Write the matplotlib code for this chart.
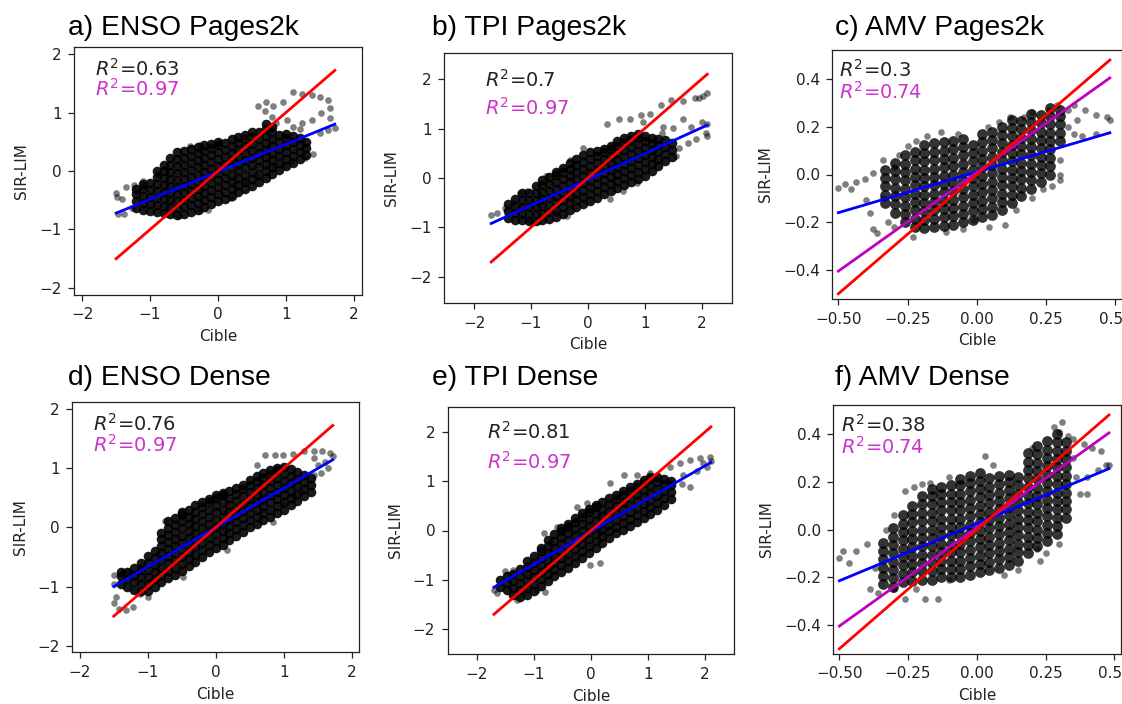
import matplotlib
matplotlib.use("Agg")
import matplotlib.pyplot as plt
from matplotlib.ticker import MultipleLocator

# ---------------- data ----------------
titles = ["a) ENSO Pages2k", "b) TPI Pages2k", "c) AMV Pages2k",
          "d) ENSO Dense", "e) TPI Dense", "f) AMV Dense"]
r2_black = ["0.63", "0.7", "0.3", "0.76", "0.81", "0.38"]
r2_magenta = ["0.97", "0.97", "0.74", "0.97", "0.97", "0.74"]
x_label = "Cible"
y_label = "SIR-LIM"

# dense cores (x column, list of y values)
a_core = [(-1.2, [-0.64, -0.52, -0.40, -0.30]),
          (-1.1, [-0.66, -0.54, -0.42, -0.30, -0.22]),
          (-1.0, [-0.68, -0.56, -0.44, -0.32, -0.20]),
          (-0.9, [-0.70, -0.58, -0.46, -0.34, -0.22, -0.10, 0.0]),
          (-0.8, [-0.72, -0.60, -0.48, -0.36, -0.24, -0.12, 0.0, 0.10]),
          (-0.7, [-0.74, -0.62, -0.50, -0.38, -0.26, -0.14, -0.02, 0.10, 0.22]),
          (-0.6, [-0.75, -0.63, -0.51, -0.39, -0.27, -0.15, -0.03, 0.09, 0.21, 0.32]),
          (-0.5, [-0.74, -0.62, -0.50, -0.38, -0.26, -0.14, -0.02, 0.10, 0.22, 0.34]),
          (-0.4, [-0.70, -0.58, -0.46, -0.34, -0.22, -0.10, 0.02, 0.14, 0.26, 0.38]),
          (-0.3, [-0.66, -0.54, -0.42, -0.30, -0.18, -0.06, 0.06, 0.18, 0.30, 0.41]),
          (-0.2, [-0.62, -0.50, -0.38, -0.26, -0.14, -0.02, 0.10, 0.22, 0.34, 0.44]),
          (-0.1, [-0.56, -0.44, -0.32, -0.20, -0.08, 0.04, 0.16, 0.28, 0.40, 0.47]),
          (0.0, [-0.52, -0.40, -0.28, -0.16, -0.04, 0.08, 0.20, 0.32, 0.44, 0.50]),
          (0.1, [-0.48, -0.36, -0.24, -0.12, 0.0, 0.12, 0.24, 0.36, 0.48]),
          (0.2, [-0.42, -0.30, -0.18, -0.06, 0.06, 0.18, 0.30, 0.42, 0.54]),
          (0.3, [-0.36, -0.24, -0.12, 0.0, 0.12, 0.24, 0.36, 0.48, 0.58]),
          (0.4, [-0.30, -0.18, -0.06, 0.06, 0.18, 0.30, 0.42, 0.54, 0.62]),
          (0.5, [-0.25, -0.13, -0.01, 0.11, 0.23, 0.35, 0.47, 0.58, 0.66]),
          (0.6, [-0.18, -0.06, 0.06, 0.18, 0.30, 0.42, 0.54, 0.66]),
          (0.7, [-0.12, 0.0, 0.12, 0.24, 0.36, 0.48, 0.60, 0.72, 0.80]),
          (0.8, [-0.05, 0.07, 0.19, 0.31, 0.43, 0.55, 0.67, 0.76]),
          (0.9, [0.02, 0.14, 0.26, 0.38, 0.50, 0.62]),
          (1.0, [0.08, 0.20, 0.32, 0.44, 0.56, 0.64]),
          (1.1, [0.14, 0.26, 0.38, 0.50, 0.60]),
          (1.2, [0.20, 0.32, 0.44, 0.56]),
          (1.3, [0.28, 0.40, 0.50])]
a_out_x = [-1.5, -1.48, -1.47, -1.38, -1.42, -1.35, -1.27, -1.23, -1.11, -0.88, -0.57, -0.26,
           -0.14, 0.19, 0.4, 0.57, 0.84, 0.96, 1.08, 1.28, 1.40, -0.26, -0.41, 0.02, 0.59,
           0.71, 0.81, 0.96, 1.11, 1.23, 1.38, 1.5, 1.62, 1.65, 1.23, 1.38, 1.52, 1.65, 1.72,
           1.62, 1.5, 0.76, 0.86, 0.79, 0.69, 1.01, 1.11, 1.21]
a_out_y = [-0.38, -0.45, -0.74, -0.74, -0.48, -0.27, -0.63, -0.24, -0.17, -0.05, -0.77, -0.68,
           -0.67, -0.47, -0.2, -0.11, 0.08, 0.09, 0.17, 0.23, 0.29, 0.44, 0.43, 0.48, 1.11,
           1.18, 1.11, 1.18, 1.35, 1.32, 1.30, 1.27, 1.21, 1.07, 0.82, 0.875, 1.0, 0.9, 0.74,
           0.7, 0.65, 0.71, 0.82, 0.93, 1.02, 0.875, 0.76, 0.71]

b_core = [(-1.4, [-0.80, -0.66, -0.52]),
          (-1.28, [-0.84, -0.70, -0.56, -0.42]),
          (-1.16, [-0.86, -0.72, -0.58, -0.44, -0.30]),
          (-1.04, [-0.87, -0.73, -0.59, -0.45, -0.31]),
          (-0.92, [-0.87, -0.73, -0.59, -0.45, -0.31, -0.17]),
          (-0.8, [-0.85, -0.71, -0.57, -0.43, -0.29, -0.15, -0.05]),
          (-0.68, [-0.82, -0.68, -0.54, -0.40, -0.26, -0.12, 0.02]),
          (-0.56, [-0.78, -0.64, -0.50, -0.36, -0.22, -0.08, 0.06, 0.12]),
          (-0.44, [-0.72, -0.58, -0.44, -0.30, -0.16, -0.02, 0.12, 0.20]),
          (-0.32, [-0.65, -0.51, -0.37, -0.23, -0.09, 0.05, 0.19, 0.30]),
          (-0.2, [-0.58, -0.44, -0.30, -0.16, -0.02, 0.12, 0.26, 0.38]),
          (-0.08, [-0.52, -0.38, -0.24, -0.10, 0.04, 0.18, 0.32, 0.46]),
          (0.04, [-0.46, -0.32, -0.18, -0.04, 0.10, 0.24, 0.38, 0.52]),
          (0.16, [-0.40, -0.26, -0.12, 0.02, 0.16, 0.30, 0.44, 0.55]),
          (0.28, [-0.32, -0.18, -0.04, 0.10, 0.24, 0.38, 0.52, 0.58]),
          (0.4, [-0.26, -0.12, 0.02, 0.16, 0.30, 0.44, 0.58, 0.65]),
          (0.52, [-0.20, -0.06, 0.08, 0.22, 0.36, 0.50, 0.64, 0.74]),
          (0.64, [-0.14, 0.0, 0.14, 0.28, 0.42, 0.56, 0.70, 0.80]),
          (0.76, [-0.08, 0.06, 0.20, 0.34, 0.48, 0.62, 0.76, 0.86]),
          (0.88, [-0.02, 0.12, 0.26, 0.40, 0.54, 0.68, 0.82, 0.90]),
          (1.0, [0.05, 0.19, 0.33, 0.47, 0.61, 0.75, 0.85]),
          (1.12, [0.15, 0.29, 0.43, 0.57, 0.71, 0.80]),
          (1.24, [0.25, 0.39, 0.53, 0.67, 0.78]),
          (1.36, [0.35, 0.49, 0.63, 0.76]),
          (1.48, [0.42, 0.56, 0.70])]
b_out_x = [0.33, 0.54, 0.74, 0.93, 1.09, 1.29, 1.46, 1.68, 1.88, 1.95, 2.03, 2.1, 1.3, 1.5,
           1.68, 1.82, 2.0, 2.1, 1.77, 1.91, 2.08, 2.1, 0.97, 1.33, -1.7, -1.6, -1.46, -1.31,
           -1.19, -1.07, -1.02, -0.37, -0.55, 0.39, 0.62, 0.86, -0.08, -0.31, -0.73, 1.6, 1.55]
b_out_y = [1.1, 1.2, 1.2, 1.27, 1.3, 1.47, 1.58, 1.55, 1.62, 1.62, 1.65, 1.72, 0.91, 1.01,
           1.2, 1.04, 1.14, 1.1, 0.71, 0.78, 0.91, 0.84, 1.14, 1.04, -0.74, -0.71, -0.61, -0.51,
           -0.3, -0.27, -0.87, -0.77, -0.7, -0.43, -0.26, -0.1, 0.6, 0.37, 0.04, 0.6, 0.45]

c_core = [(-0.33, [-0.12, -0.085, -0.05, -0.015, 0.02]),
          (-0.295, [-0.16, -0.125, -0.09, -0.055, -0.02, 0.015, 0.05]),
          (-0.26, [-0.2, -0.165, -0.13, -0.095, -0.06, -0.025, 0.01, 0.045, 0.08]),
          (-0.225, [-0.22, -0.185, -0.15, -0.115, -0.08, -0.045, -0.01, 0.025, 0.06, 0.095]),
          (-0.19, [-0.225, -0.19, -0.155, -0.12, -0.085, -0.05, -0.015, 0.02, 0.055, 0.09, 0.125]),
          (-0.155, [-0.22, -0.185, -0.15, -0.115, -0.08, -0.045, -0.01, 0.025, 0.06, 0.095, 0.13]),
          (-0.12, [-0.215, -0.18, -0.145, -0.11, -0.075, -0.04, -0.005, 0.03, 0.065, 0.1, 0.135]),
          (-0.085, [-0.21, -0.175, -0.14, -0.105, -0.07, -0.035, 0.0, 0.035, 0.07, 0.105, 0.14]),
          (-0.05, [-0.2, -0.165, -0.13, -0.095, -0.06, -0.025, 0.01, 0.045, 0.08, 0.115, 0.15]),
          (-0.015, [-0.19, -0.155, -0.12, -0.085, -0.05, -0.015, 0.02, 0.055, 0.09, 0.125]),
          (0.02, [-0.18, -0.145, -0.11, -0.075, -0.04, -0.005, 0.03, 0.065, 0.1, 0.135, 0.17]),
          (0.055, [-0.17, -0.135, -0.1, -0.065, -0.03, 0.005, 0.04, 0.075, 0.11, 0.145, 0.18]),
          (0.09, [-0.15, -0.115, -0.08, -0.045, -0.01, 0.025, 0.06, 0.095, 0.13, 0.165, 0.2]),
          (0.125, [-0.12, -0.085, -0.05, -0.015, 0.02, 0.055, 0.09, 0.125, 0.16, 0.195, 0.23]),
          (0.16, [-0.09, -0.055, -0.02, 0.015, 0.05, 0.085, 0.12, 0.155, 0.19, 0.225]),
          (0.195, [-0.06, -0.025, 0.01, 0.045, 0.08, 0.115, 0.15, 0.185, 0.22, 0.255]),
          (0.23, [-0.03, 0.005, 0.04, 0.075, 0.11, 0.145, 0.18, 0.215, 0.25]),
          (0.265, [0.0, 0.035, 0.07, 0.105, 0.14, 0.175, 0.21, 0.245, 0.28]),
          (0.3, [0.14, 0.175, 0.21, 0.245, 0.27])]
c_out_x = [-0.5, -0.475, -0.455, -0.435, -0.405, -0.375, -0.4, -0.385, -0.375, -0.36, 0.43,
           0.47, 0.39, 0.35, 0.33, 0.29, 0.26, 0.2, 0.17, 0.35, 0.38, 0.43, 0.48, 0.3, 0.3,
           0.3, 0.27, 0.045, 0.1, -0.01, -0.11, -0.23, -0.18, -0.13, -0.07, 0.04, 0.08, -0.28,
           -0.34, -0.32, -0.3, -0.34, -0.25, -0.22, 0.14, 0.2, 0.24, 0.12, -0.05, -0.3, 0.33,
           0.36]
c_out_y = [-0.056, -0.04, -0.06, -0.03, -0.02, 0.006, -0.105, -0.16, -0.23, -0.244, 0.25,
           0.24, 0.27, 0.29, 0.27, 0.29, 0.27, 0.26, 0.24, 0.17, 0.16, 0.17, 0.23, 0.06, 0.0,
           -0.025, -0.05, -0.22, -0.21, -0.19, -0.24, -0.26, 0.16, 0.18, 0.17, 0.2, 0.22, 0.08,
           -0.1, -0.2, 0.03, 0.06, 0.12, 0.14, -0.15, -0.1, -0.06, 0.24, -0.23, -0.22, 0.2,
           0.23]

d_core = [(-1.4, [-0.95, -0.83, -0.75]),
          (-1.3, [-1.0, -0.88, -0.76]),
          (-1.2, [-1.05, -0.93, -0.81, -0.69]),
          (-1.1, [-1.08, -0.96, -0.84, -0.72, -0.60]),
          (-1.0, [-1.08, -0.96, -0.84, -0.72, -0.60, -0.48]),
          (-0.9, [-1.0, -0.88, -0.76, -0.64, -0.52, -0.40]),
          (-0.8, [-0.92, -0.80, -0.68, -0.56, -0.44, -0.32, -0.20, -0.10]),
          (-0.7, [-0.85, -0.73, -0.61, -0.49, -0.37, -0.25, -0.13, -0.01, 0.10]),
          (-0.6, [-0.80, -0.68, -0.56, -0.44, -0.32, -0.20, -0.08, 0.04, 0.16]),
          (-0.5, [-0.74, -0.62, -0.50, -0.38, -0.26, -0.14, -0.02, 0.10, 0.22, 0.26]),
          (-0.4, [-0.66, -0.54, -0.42, -0.30, -0.18, -0.06, 0.06, 0.18, 0.30]),
          (-0.3, [-0.58, -0.46, -0.34, -0.22, -0.10, 0.02, 0.14, 0.26, 0.38]),
          (-0.2, [-0.50, -0.38, -0.26, -0.14, -0.02, 0.10, 0.22, 0.34, 0.42]),
          (-0.1, [-0.42, -0.30, -0.18, -0.06, 0.06, 0.18, 0.30, 0.42, 0.48]),
          (0.0, [-0.35, -0.23, -0.11, 0.01, 0.13, 0.25, 0.37, 0.49, 0.54]),
          (0.1, [-0.30, -0.18, -0.06, 0.06, 0.18, 0.30, 0.42, 0.54, 0.58]),
          (0.2, [-0.22, -0.10, 0.02, 0.14, 0.26, 0.38, 0.50, 0.62]),
          (0.3, [-0.15, -0.03, 0.09, 0.21, 0.33, 0.45, 0.57, 0.66]),
          (0.4, [-0.08, 0.04, 0.16, 0.28, 0.40, 0.52, 0.64, 0.72]),
          (0.5, [0.0, 0.12, 0.24, 0.36, 0.48, 0.60, 0.72, 0.80]),
          (0.6, [0.06, 0.18, 0.30, 0.42, 0.54, 0.66, 0.78, 0.86]),
          (0.7, [0.12, 0.24, 0.36, 0.48, 0.60, 0.72, 0.84, 0.92]),
          (0.8, [0.18, 0.30, 0.42, 0.54, 0.66, 0.78, 0.90, 0.96]),
          (0.9, [0.24, 0.36, 0.48, 0.60, 0.72, 0.84, 0.96, 1.0]),
          (1.0, [0.30, 0.42, 0.54, 0.66, 0.78, 0.90, 1.02]),
          (1.1, [0.38, 0.50, 0.62, 0.74, 0.86, 0.98]),
          (1.2, [0.45, 0.57, 0.69, 0.81, 0.93]),
          (1.3, [0.52, 0.64, 0.76, 0.88]),
          (1.4, [0.60, 0.72, 0.84])]
d_out_x = [0.72, 0.87, 0.99, 1.14, 1.29, 1.44, 1.56, 1.68, 1.72, 0.6, 1.44, 1.54, 1.44, 1.14,
           1.26, 0.99, 0.84, -1.49, -1.42, -1.32, -1.22, -1.49, -1.47, -1.12, -1.0, -1.5,
           -1.37, -1.27, -1.12, -0.75, -0.5, -0.48, 0.17, 1.6, 1.65, 1.5]
d_out_y = [1.22, 1.22, 1.22, 1.23, 1.28, 1.29, 1.28, 1.26, 1.2, 1.06, 1.17, 0.91, 0.88, 0.54,
           0.62, 0.37, 0.09, -1.28, -1.38, -1.39, -1.34, -0.95, -1.17, -1.12, -1.17, -0.8,
           -0.76, -0.73, -0.67, 0.1, 0.17, -0.84, -0.39, 1.1, 1.0, 1.05]

e_core = [(-1.6, [-1.15, -1.01]),
          (-1.48, [-1.20, -1.06, -0.92]),
          (-1.36, [-1.30, -1.16, -1.02, -0.88]),
          (-1.24, [-1.35, -1.21, -1.07, -0.93, -0.79]),
          (-1.12, [-1.30, -1.16, -1.02, -0.88, -0.74, -0.62]),
          (-1.0, [-1.22, -1.08, -0.94, -0.80, -0.66, -0.52]),
          (-0.88, [-1.12, -0.98, -0.84, -0.70, -0.56, -0.42, -0.35]),
          (-0.76, [-1.02, -0.88, -0.74, -0.60, -0.46, -0.32, -0.20]),
          (-0.64, [-0.92, -0.78, -0.64, -0.50, -0.36, -0.22, -0.08]),
          (-0.52, [-0.84, -0.70, -0.56, -0.42, -0.28, -0.14, 0.0, 0.05]),
          (-0.4, [-0.76, -0.62, -0.48, -0.34, -0.20, -0.06, 0.08, 0.14]),
          (-0.28, [-0.66, -0.52, -0.38, -0.24, -0.10, 0.04, 0.18, 0.25]),
          (-0.16, [-0.56, -0.42, -0.28, -0.14, 0.0, 0.14, 0.28, 0.35]),
          (-0.04, [-0.46, -0.32, -0.18, -0.04, 0.10, 0.24, 0.38, 0.43]),
          (0.08, [-0.36, -0.22, -0.08, 0.06, 0.20, 0.34, 0.48, 0.52]),
          (0.2, [-0.26, -0.12, 0.02, 0.16, 0.30, 0.44, 0.58]),
          (0.32, [-0.16, -0.02, 0.12, 0.26, 0.40, 0.54, 0.66]),
          (0.44, [-0.06, 0.08, 0.22, 0.36, 0.50, 0.64, 0.72]),
          (0.56, [0.02, 0.16, 0.30, 0.44, 0.58, 0.72, 0.80]),
          (0.68, [0.10, 0.24, 0.38, 0.52, 0.66, 0.80, 0.88]),
          (0.8, [0.18, 0.32, 0.46, 0.60, 0.74, 0.88, 0.95]),
          (0.92, [0.26, 0.40, 0.54, 0.68, 0.82, 0.96, 1.02]),
          (1.04, [0.34, 0.48, 0.62, 0.76, 0.90, 1.04, 1.08]),
          (1.16, [0.42, 0.56, 0.70, 0.84, 0.98, 1.08]),
          (1.28, [0.52, 0.66, 0.80, 0.94, 1.05]),
          (1.4, [0.64, 0.78, 0.92, 1.0])]
e_out_x = [2.09, 1.91, 1.73, 1.56, 1.39, 1.04, 0.8, 0.57, 0.33, 1.97, 2.03, 1.74, 1.62, 2.1,
           1.85, 1.6, -1.65, -1.7, -1.36, -1.5, -1.3, -0.95, -0.8, -0.07, -0.25, -0.6, -0.83,
           -0.02, 0.16]
e_out_y = [1.49, 1.46, 1.43, 1.36, 1.29, 1.16, 1.12, 1.12, 0.96, 1.36, 1.29, 0.89, 1.12, 1.4,
           1.2, 0.95, -1.26, -1.2, -0.8, -0.83, -1.4, -1.2, -1.24, 0.55, 0.48, 0.08, -0.05,
           -0.69, -0.66]

f_core = [(-0.34, [-0.23, -0.195, -0.16, -0.125, -0.09, -0.055]),
          (-0.305, [-0.24, -0.205, -0.17, -0.135, -0.1, -0.065, -0.03, 0.005]),
          (-0.27, [-0.22, -0.185, -0.15, -0.115, -0.08, -0.045, -0.01, 0.025, 0.06]),
          (-0.235, [-0.215, -0.18, -0.145, -0.11, -0.075, -0.04, -0.005, 0.03, 0.065, 0.1]),
          (-0.2, [-0.21, -0.175, -0.14, -0.105, -0.07, -0.035, 0.0, 0.035, 0.07, 0.105, 0.14]),
          (-0.165, [-0.21, -0.175, -0.14, -0.105, -0.07, -0.035, 0.0, 0.035, 0.07, 0.105, 0.14, 0.17]),
          (-0.13, [-0.2, -0.165, -0.13, -0.095, -0.06, -0.025, 0.01, 0.045, 0.08, 0.115, 0.15, 0.18]),
          (-0.095, [-0.2, -0.165, -0.13, -0.095, -0.06, -0.025, 0.01, 0.045, 0.08, 0.115, 0.15, 0.185]),
          (-0.06, [-0.2, -0.165, -0.13, -0.095, -0.06, -0.025, 0.01, 0.045, 0.08, 0.115, 0.15, 0.185, 0.21]),
          (-0.025, [-0.19, -0.155, -0.12, -0.085, -0.05, -0.015, 0.02, 0.055, 0.09, 0.125, 0.16, 0.195, 0.225]),
          (0.01, [-0.18, -0.145, -0.11, -0.075, -0.04, -0.005, 0.03, 0.065, 0.1, 0.135, 0.17, 0.205, 0.235]),
          (0.045, [-0.17, -0.135, -0.1, -0.065, -0.03, 0.005, 0.04, 0.075, 0.11, 0.145, 0.18, 0.215]),
          (0.08, [-0.16, -0.125, -0.09, -0.055, -0.02, 0.015, 0.05, 0.085, 0.12, 0.155, 0.19, 0.225]),
          (0.115, [-0.15, -0.115, -0.08, -0.045, -0.01, 0.025, 0.06, 0.095, 0.13, 0.165, 0.2, 0.23]),
          (0.15, [-0.13, -0.095, -0.06, -0.025, 0.01, 0.045, 0.08, 0.115, 0.15, 0.185, 0.22]),
          (0.185, [-0.1, -0.065, -0.03, 0.005, 0.04, 0.075, 0.11, 0.145, 0.18, 0.215, 0.25, 0.285, 0.32]),
          (0.22, [-0.07, -0.035, 0.0, 0.035, 0.07, 0.105, 0.14, 0.175, 0.21, 0.245, 0.28, 0.315, 0.35]),
          (0.255, [-0.05, -0.015, 0.02, 0.055, 0.09, 0.125, 0.16, 0.195, 0.23, 0.265, 0.3, 0.335, 0.37]),
          (0.29, [-0.02, 0.015, 0.05, 0.085, 0.12, 0.155, 0.19, 0.225, 0.26, 0.295, 0.33, 0.365, 0.4]),
          (0.325, [0.05, 0.085, 0.12, 0.155, 0.19, 0.225, 0.26, 0.295, 0.33, 0.365])]
f_out_x = [-0.5, -0.485, -0.466, -0.44, -0.4, -0.39, -0.36, -0.37, -0.3, -0.26, -0.23, -0.2,
           -0.17, -0.26, -0.19, -0.14, -0.1, 0.28, 0.3, 0.33, 0.39, 0.42, 0.47, 0.44, 0.36,
           0.4, 0.375, 0.4, 0.2, 0.03, 0.23, 0.48, 0.45, 0.35, 0.31, -0.33, -0.3, -0.22, 0.22,
           0.25, 0.3, 0.35, 0.06, -0.1, 0.15, 0.1]
f_out_y = [-0.12, -0.09, -0.14, -0.09, -0.06, -0.25, -0.265, -0.16, 0.06, 0.16, 0.18, 0.19,
           0.195, -0.29, -0.29, -0.29, -0.21, 0.43, 0.41, 0.39, 0.36, 0.34, 0.27, 0.25, 0.22,
           0.22, 0.15, 0.15, 0.34, 0.31, -0.13, 0.27, 0.33, 0.38, 0.45, 0.0, -0.25, -0.25,
           -0.08, -0.1, -0.06, 0.3, 0.27, 0.22, -0.17, -0.19]

# regression lines (x start/end, y start/end)
blue_x = [[-1.5, 1.72], [-1.7, 2.1], [-0.5, 0.48], [-1.5, 1.72], [-1.7, 2.1], [-0.5, 0.48]]
blue_y = [[-0.72, 0.80], [-0.92, 1.07], [-0.16, 0.175], [-1.0, 1.14], [-1.15, 1.38], [-0.215, 0.255]]
mag_y = [None, None, [-0.405, 0.405], None, None, [-0.405, 0.405]]
limits = [2.12, 2.53, 0.522, 2.11, 2.51, 0.522]

# ---------------- layout (pixels in the 1122x704 picture) ----------------
W, H = 1122, 704
boxes = [(74, 362, 47, 295), (444, 731.7, 53, 303), (832.3, 1121.5, 50, 299),
         (72.3, 359.3, 402.3, 652.3), (447.7, 734.3, 406.7, 654.3), (833.3, 1120.5, 405, 654)]
title_pos = [(68, 35), (432, 35), (835, 35), (68, 385), (432, 385), (835, 385)]
r2_pos = [(0.073, 0.883, 0.803), (0.1425, 0.865, 0.752), (0.023, 0.893, 0.806),
          (0.071, 0.885, 0.802), (0.136, 0.872, 0.751), (0.027, 0.893, 0.806)]

cores = [a_core, b_core, c_core, d_core, e_core, f_core]
outs = [(a_out_x, a_out_y), (b_out_x, b_out_y), (c_out_x, c_out_y),
        (d_out_x, d_out_y), (e_out_x, e_out_y), (f_out_x, f_out_y)]


def expand(cols):
    xs, ys = [], []
    for x, yl in cols:
        xs += [x] * len(yl)
        ys += list(yl)
    return xs, ys


fig = plt.figure(figsize=(W / 100, H / 100), dpi=100)
MS = 23
for i in range(6):
    l, r, t, b = boxes[i]
    ax = fig.add_axes([l / W, 1 - b / H, (r - l) / W, (b - t) / H])
    cx, cy = expand(cores[i])
    amv = i in (2, 5)
    # many overlapping points in the dense core: drawn darker/larger
    ax.scatter(cx, cy, s=60 if amv else 48, c="k", alpha=0.8 if amv else 0.9,
               linewidths=0, zorder=2)
    ox, oy = outs[i]
    ax.scatter(ox, oy, s=MS, c="k", alpha=0.5, linewidths=0, zorder=2)
    ax.plot(blue_x[i], blue_y[i], color="#0000ff", lw=2.0, zorder=3)
    if mag_y[i] is not None:
        ax.plot(blue_x[i], mag_y[i], color="#bf00bf", lw=2.0, zorder=3)
    ax.plot(blue_x[i], blue_x[i], color="#ff0000", lw=2.0, zorder=4)
    L = limits[i]
    ax.set_xlim(-L, L)
    ax.set_ylim(-L, L)
    if amv:
        ax.xaxis.set_major_locator(MultipleLocator(0.25))
        ax.yaxis.set_major_locator(MultipleLocator(0.2))
    else:
        ax.xaxis.set_major_locator(MultipleLocator(1))
        ax.yaxis.set_major_locator(MultipleLocator(1))
    ax.tick_params(labelsize=11, length=4.5, width=0.9, pad=4.5, colors="#222222")
    for sp in ax.spines.values():
        sp.set_linewidth(0.9)
        sp.set_color("#222222")
    ax.set_xlabel(x_label, fontsize=11, labelpad=5, color="#222222")
    ax.set_ylabel(y_label, fontsize=11, labelpad=7, color="#222222")
    xr, y1, y2 = r2_pos[i]
    ax.text(xr, y1, r"$R^2$=" + r2_black[i], transform=ax.transAxes, fontsize=14,
            color="#222222", va="baseline", ha="left")
    ax.text(xr, y2, r"$R^2$=" + r2_magenta[i], transform=ax.transAxes, fontsize=14,
            color="#cc33cc", va="baseline", ha="left")
    tx, ty = title_pos[i]
    fig.text(tx / W, 1 - ty / H, titles[i], fontsize=20.3, family="Liberation Sans",
             va="baseline", ha="left", color="black")

fig.savefig("out.png", dpi=100)
